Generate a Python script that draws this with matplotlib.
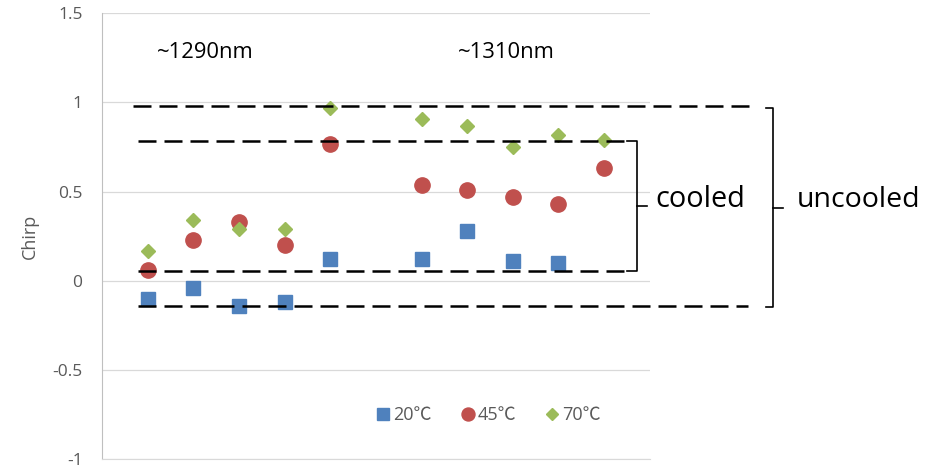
import matplotlib.pyplot as plt
from matplotlib.ticker import FixedLocator, FixedFormatter

# sample positions (gap between the two wavelength groups)
pos_20C = [1, 2, 3, 4, 5, 7, 8, 9, 10]
pos_45C = [1, 2, 3, 4, 5, 7, 8, 9, 10, 11]
pos_70C = [1, 2, 3, 4, 5, 7, 8, 9, 10, 11]

chirp_20C = [-0.10, -0.04, -0.14, -0.12, 0.12, 0.12, 0.28, 0.11, 0.10]
chirp_45C = [0.06, 0.23, 0.33, 0.20, 0.77, 0.54, 0.51, 0.47, 0.43, 0.63]
chirp_70C = [0.17, 0.34, 0.29, 0.29, 0.97, 0.91, 0.87, 0.75, 0.82, 0.79]

series_labels = ["20℃", "45℃", "70℃"]
group_labels = ["~1290nm", "~1310nm"]

y_ticks = [-1, -0.5, 0, 0.5, 1, 1.5]
y_tick_labels = ["-1", "-0.5", "0", "0.5", "1", "1.5"]

# chirp ranges: uncooled (outer) and cooled (inner)
uncooled_range = [-0.14, 0.98]
cooled_range = [0.055, 0.785]

plt.rcParams["font.family"] = ["Open Sans", "Noto Sans CJK SC", "DejaVu Sans"]

fig = plt.figure(figsize=(9.3, 4.69), dpi=100)
ax = fig.add_axes([0.1097, 0.0207, 0.589, 0.951])

""" scatter series """
ax.plot(pos_20C, chirp_20C, ls="none", marker="s", ms=10.5, color="#4F81BD",
        mec="#4F81BD", label=series_labels[0], zorder=3)
ax.plot(pos_45C, chirp_45C, ls="none", marker="o", ms=11, color="#C0504D",
        mec="#C0504D", label=series_labels[1], zorder=3)
ax.plot(pos_70C, chirp_70C, ls="none", marker="D", ms=7.5, color="#9BBB59",
        mec="#9BBB59", label=series_labels[2], zorder=3)

ax.set_xlim(0, 12)
ax.set_ylim(-1, 1.5)
ax.set_xticks([])
ax.yaxis.set_major_locator(FixedLocator(y_ticks))
ax.yaxis.set_major_formatter(FixedFormatter(y_tick_labels))
ax.tick_params(axis="y", length=0, pad=14, labelsize=12.5, labelcolor="#595959")
ax.grid(axis="y", color="#D9D9D9", lw=0.9)
ax.set_axisbelow(True)
for s in ["top", "right"]:
    ax.spines[s].set_visible(False)
ax.spines["left"].set_color("#BFBFBF")
ax.spines["bottom"].set_color("#D9D9D9")

ax.set_ylabel("Chirp", fontsize=13, color="#595959")
ax.yaxis.set_label_coords(-0.115, 0.5)

""" dashed range lines """
dash = dict(color="black", lw=1.8, ls=(0, (7.2, 3.2)), zorder=4, clip_on=False)
ax.plot([0.68, 14.23], [uncooled_range[1]] * 2, **dash)
ax.plot([0.78, 14.15], [uncooled_range[0]] * 2, **dash)
ax.plot([0.78, 11.5], [cooled_range[1]] * 2, **dash)
ax.plot([0.78, 11.5], [cooled_range[0]] * 2, **dash)

""" brackets """
def bracket(x0, x1, x2, lo, hi):
    mid = (lo + hi) / 2
    ax.plot([x0, x1, x1, x0], [hi, hi, lo, lo], color="black", lw=1.2,
            clip_on=False, zorder=4)
    ax.plot([x1, x2], [mid, mid], color="black", lw=1.2, clip_on=False, zorder=4)

bracket(11.5, 11.71, 11.93, cooled_range[0], cooled_range[1])
bracket(14.54, 14.71, 14.91, uncooled_range[0] - 0.006, uncooled_range[1] - 0.012)

ax.text(12.13, 0.455, "cooled", fontsize=20.8, va="center", ha="left")
ax.text(15.22, 0.455, "uncooled", fontsize=20.5, va="center", ha="left")

ax.text(1.2, 1.28, group_labels[0], fontsize=15.8, va="center", ha="left")
ax.text(7.8, 1.28, group_labels[1], fontsize=15.8, va="center", ha="left")

""" legend """
ax.legend(loc="center", bbox_to_anchor=(0.704, 0.099), ncol=3, frameon=False,
          fontsize=13, markerscale=0.85, handletextpad=0.05, columnspacing=1.5,
          handlelength=1.0, labelcolor="#595959")

plt.savefig("out.png", dpi=100)
plt.close()
